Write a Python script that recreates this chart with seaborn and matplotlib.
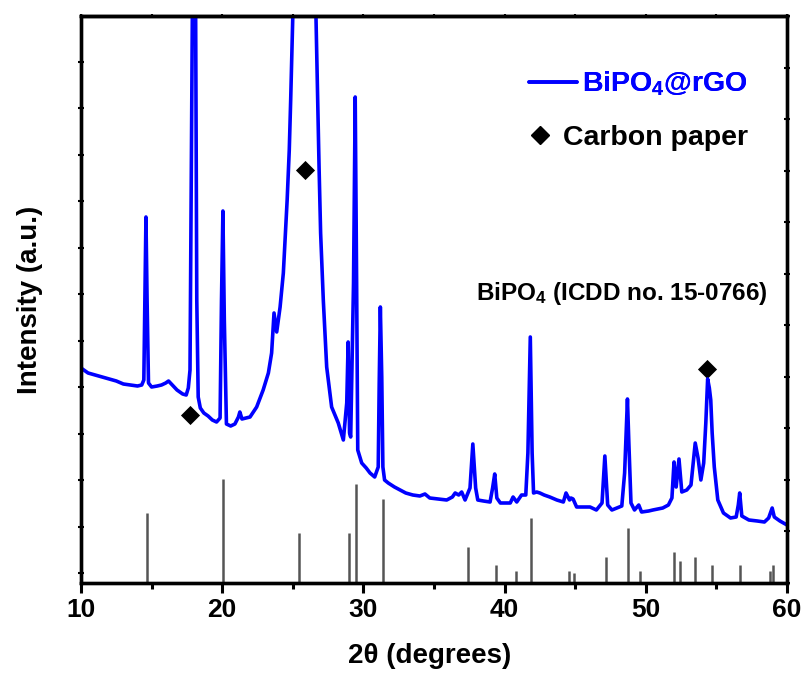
import numpy as np
import pandas as pd
import matplotlib
matplotlib.use("Agg")
import matplotlib.pyplot as plt
import seaborn as sns
from matplotlib.lines import Line2D

# ---------------- data ----------------
two_theta = [10.0, 10.5, 11.0, 11.5, 12.0, 12.5, 13.0, 13.5, 14.0, 14.3, 14.45, 14.6, 14.68, 14.78,
             15.0, 15.4, 15.7, 16.0, 16.2, 16.4, 16.8, 17.2, 17.45, 17.6, 17.72, 17.8, 17.88, 18.0,
             18.12, 18.2, 18.3, 18.45, 18.7, 19.0, 19.3, 19.6, 19.85, 19.95, 20.05, 20.15, 20.3,
             20.6, 20.9, 21.15, 21.25, 21.4, 21.7, 21.97, 22.44, 22.9, 23.27, 23.5, 23.67, 23.86,
             24.1, 24.33, 24.45, 24.6, 24.75, 24.85, 25.0, 25.3, 25.8, 26.3, 26.64, 26.76, 26.86,
             26.97, 27.16, 27.4, 27.75, 28.22, 28.58, 28.82, 28.92, 29.02, 29.1, 29.3, 29.42, 29.52,
             29.6, 29.88, 30.2, 30.47, 30.8, 31.05, 31.12, 31.2, 31.3, 31.38, 31.5, 31.76, 32.2,
             32.6, 33.0, 33.5, 34.0, 34.36, 34.7, 35.3, 35.9, 36.3, 36.5, 36.75, 36.96, 37.2, 37.55,
             37.75, 37.95, 38.1, 38.5, 38.97, 39.15, 39.3, 39.45, 39.7, 40.1, 40.4, 40.6, 40.86,
             41.2, 41.5, 41.65, 41.82, 41.95, 42.05, 42.27, 42.5, 42.8, 43.2, 43.7, 44.16, 44.35,
             44.6, 44.7, 44.85, 45.1, 45.6, 46.05, 46.5, 46.9, 47.1, 47.3, 47.6, 47.94, 48.3, 48.5,
             48.7, 48.8, 48.95, 49.2, 49.5, 49.7, 50.2, 50.5, 51.2, 51.6, 51.85, 52.0, 52.15, 52.35,
             52.55, 52.9, 53.2, 53.5, 53.7, 53.9, 54.1, 54.25, 54.38, 54.5, 54.6, 54.7, 54.85, 55.1,
             55.5, 56.0, 56.4, 56.55, 56.65, 56.8, 57.3, 57.9, 58.4, 58.7, 58.95, 59.1, 59.5, 60.0]
intensity = [215, 210, 208, 206, 204, 202, 199, 198, 197, 198, 203, 366, 283, 200,
             196, 197, 198, 200, 202, 199, 193, 189, 188, 195, 213, 383, 567, 733,
             567, 283, 186, 175, 170, 167, 163, 161, 165, 283, 372, 263, 159,
             157, 159, 166, 171, 164, 165, 166, 176, 193, 210, 230, 270, 251,
             276, 310, 343, 383, 433, 483, 567, 700, 820, 700, 567, 483, 416,
             350, 283, 216, 176, 160, 143, 180, 241, 150, 146, 300, 486, 300,
             133, 120, 115, 110, 106, 116, 200, 276, 206, 116, 103, 100, 96,
             93, 90, 88, 87, 89, 85, 84, 83, 86, 90, 88, 91, 83, 95,
             139, 95, 83, 82, 81, 95, 109, 85, 80, 80, 80, 86, 81,
             88, 88, 130, 246, 130, 90, 91, 90, 88, 86, 83, 81, 90,
             83, 85, 84, 76, 76, 76, 73, 80, 127, 78, 73, 75, 77, 110,
             184, 140, 80, 73, 78, 71, 72, 73, 75, 78, 85, 121, 96, 124,
             91, 93, 98, 140, 125, 103, 120, 160, 204, 195, 183, 150, 116, 83,
             70, 65, 66, 78, 90, 67, 63, 62, 61, 65, 75, 66, 62, 58]

# BiPO4 reference pattern (ICDD no. 15-0766)
ref_pos = [14.67, 20.07, 25.47, 29.0, 29.5, 31.36, 37.4, 39.4, 40.8, 41.9, 44.55, 44.94,
           47.2, 48.77, 49.6, 52.0, 52.4, 53.5, 54.7, 56.66, 58.8, 59.0]
ref_int = [70, 104, 50, 50, 99, 84, 36, 18, 12, 65, 12, 10,
           26, 55, 12, 31, 22, 26, 18, 18, 12, 18]

# carbon paper markers
cp_pos = [17.72, 25.86, 54.3]
cp_int = [168, 413, 214]

x_ticks = [10, 20, 30, 40, 50, 60]
x_ticklabels = ["10", "20", "30", "40", "50", "60"]

# ---------------- style ----------------
sns.set_style("ticks")
plt.rcParams['font.family'] = ['Liberation Sans', 'DejaVu Sans']
plt.rcParams['font.weight'] = 'bold'
plt.rcParams['mathtext.fontset'] = 'custom'
plt.rcParams['mathtext.rm'] = 'Liberation Sans:bold'
plt.rcParams['mathtext.bf'] = 'Liberation Sans:bold'
plt.rcParams['mathtext.it'] = 'Liberation Sans:bold'
plt.rcParams['mathtext.default'] = 'bf'
for k in ['text.color', 'axes.labelcolor', 'xtick.color', 'ytick.color', 'axes.edgecolor']:
    plt.rcParams[k] = 'black'

fig = plt.figure(figsize=(8.01, 6.75), dpi=100)
ax = fig.add_axes([81/801, 1-583/675, 706/801, 567/675])

df = pd.DataFrame({"2theta": two_theta, "I": intensity})
sns.lineplot(data=df, x="2theta", y="I", ax=ax, color="#0000FF", lw=2.6, sort=False,
             estimator=None, legend=False)

ax.vlines(ref_pos, 0, ref_int, color="#555555", lw=1.8)
sns.scatterplot(x=cp_pos, y=cp_int, ax=ax, marker="D", color="black", s=95,
                edgecolor="black", linewidth=0, legend=False)

ymax = 567
ax.set_xlim(10, 60)
ax.set_ylim(0, ymax)
ax.set_xticks(x_ticks)
ax.set_xticklabels(x_ticklabels, fontsize=19, fontweight='bold')
ax.set_xticks(np.arange(15, 60, 10), minor=True)
ax.set_yticks(np.arange(10, ymax, 46.5))
ax.set_yticklabels([])
ax.tick_params(axis='x', which='major', direction='out', length=7, width=2.2, pad=4)
ax.tick_params(axis='x', which='minor', direction='out', length=4.5, width=2.2)
ax.tick_params(axis='y', which='major', direction='inout', length=4, width=1.5)

# top axis with tiny ticks
secx = ax.secondary_xaxis('top')
secx.set_xticks(np.arange(10, 61, 5))
secx.set_xticklabels([])
secx.tick_params(axis='x', direction='inout', length=3, width=1.5)
secx.spines['top'].set_linewidth(2.4)

# right axis with its own tick spacing
ax2 = ax.twinx()
ax2.set_ylim(0, ymax)
ax2.set_yticks(np.linspace(0, ymax, 12))
ax2.set_yticklabels([])
ax2.tick_params(axis='y', direction='inout', length=4, width=1.5)

for a in (ax, ax2):
    for s in a.spines.values():
        s.set_linewidth(2.4)
        s.set_visible(True)

ax.set_xlabel("2θ (degrees)", fontsize=20, fontweight='bold')
ax.xaxis.set_label_coords(0.494, -0.106)
ax.set_ylabel("Intensity (a.u.)", fontsize=20, fontweight='bold')
ax.yaxis.set_label_coords(-0.054, 0.5)

ax.text(0.972, 0.511, "BiPO$_4$ (ICDD no. 15-0766)", transform=ax.transAxes,
        ha='right', va='center', fontsize=17.5, fontweight='bold')

# legends
h1 = Line2D([], [], color="#0000FF", lw=2.6)
leg1 = ax.legend([h1], ["BiPO$_4$@rGO"], loc='center right', bbox_to_anchor=(0.945, 0.880),
                 frameon=False, fontsize=20.5, handlelength=1.7, handletextpad=0.18,
                 borderpad=0, borderaxespad=0)
for t in leg1.get_texts():
    t.set_color("#0000FF")
    t.set_fontweight('bold')
ax.add_artist(leg1)
h2 = Line2D([], [], color="black", marker="D", ls="none", markersize=9.5)
leg2 = ax2.legend([h2], ["Carbon paper"], loc='center right', bbox_to_anchor=(0.945, 0.785),
                  bbox_transform=ax.transAxes,
                  frameon=False, fontsize=20.5, handlelength=1.0, handletextpad=0.3,
                  borderpad=0, borderaxespad=0)
for t in leg2.get_texts():
    t.set_fontweight('bold')

fig.savefig("out.png", dpi=100)
